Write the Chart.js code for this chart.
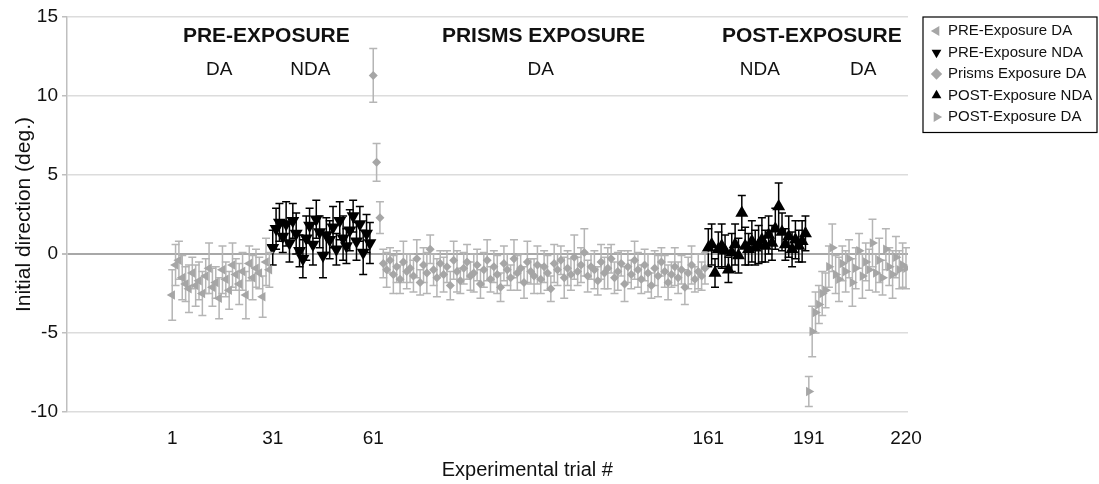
<!DOCTYPE html>
<html>
<head>
<meta charset="utf-8">
<script src="https://cdn.jsdelivr.net/npm/chart.js@4/dist/chart.umd.min.js"></script>
<style>
  html, body { margin: 0; padding: 0; background: #fff; }
  #wrap { width: 1099px; height: 484px; }
</style>
</head>
<body>
<div id="wrap"><canvas id="trialChart" width="1099" height="484"></canvas></div>
<script>
// x axis tick labels (trial numbers)
const xTicks = [1, 31, 61, 161, 191, 220];
const yTicks = [-10, -5, 0, 5, 10, 15];

const seriesNames = ['PRE-Exposure DA', 'PRE-Exposure NDA', 'Prisms Exposure DA', 'POST-Exposure NDA', 'POST-Exposure DA'];
const phaseNames = ['PRE-EXPOSURE', 'PRISMS EXPOSURE', 'POST-EXPOSURE'];
const handNames = ['DA', 'NDA', 'DA', 'NDA', 'DA'];

// initial direction means (deg.) and error bars, per phase
const preDa = [-2.6, -0.7, -0.4, -1.5, -1.9, -2.2, -1.2, -2.0, -1.7, -2.5, -1.4, -0.9, -2.1, -1.8, -2.8, -1.0, -1.6, -2.3, -0.7, -1.3, -1.9, -1.1, -2.6, -0.6, -1.5, -0.9, -1.2, -2.7, -0.5, -1.0];
const preDaErr = [1.6, 1.3, 1.2, 1.4, 1.1, 1.5, 1.0, 1.3, 1.2, 1.4, 1.1, 1.6, 1.2, 1.0, 1.3, 1.5, 1.1, 1.2, 1.4, 1.0, 1.3, 1.2, 1.5, 1.1, 1.4, 1.2, 1.0, 1.3, 1.5, 1.1];

const preNda = [0.4, 1.6, 2.0, 1.1, 1.9, 0.7, 2.1, 1.3, 0.2, -0.3, 1.0, 1.8, 0.6, 2.2, 1.4, -0.1, 1.2, 0.9, 1.7, 0.3, 2.1, 1.0, 0.5, 1.5, 2.4, 0.8, 1.9, 0.1, 1.3, 0.7];
const preNdaErr = [1.1, 1.3, 1.2, 1.0, 1.4, 1.2, 1.1, 1.3, 1.0, 1.2, 1.4, 1.1, 1.3, 1.2, 1.0, 1.4, 1.1, 1.2, 1.3, 1.0, 1.2, 1.4, 1.1, 1.3, 1.0, 1.2, 1.1, 1.4, 1.2, 1.3];

const prism = [11.3, 5.8, 2.3, -0.6, -1.0, -0.4, -1.3, -0.8, -1.6, -0.5,
  -1.1, -0.9, -1.4, -0.3, -1.8, -0.7, -1.2, 0.3, -1.0, -1.5,
  -0.6, -1.3, -0.8, -2.0, -0.4, -1.1, -1.7, -0.9, -0.5, -1.4,
  -1.2, -0.7, -1.9, -1.0, -0.4, -1.6, -0.8, -1.3, -2.1, -0.6,
  -1.0, -1.5, -0.3, -1.2, -0.9, -1.8, -0.5, -1.1, -1.4, -0.7,
  -1.6, -0.8, -1.2, -2.2, -0.6, -1.0, -0.4, -1.5, -0.9, -1.3,
  -0.2, -1.1, -0.7, 0.1, -1.4, -0.8, -1.0, -1.7, -0.5, -1.2,
  -0.9, -0.3, -1.5, -1.1, -0.6, -1.9, -0.8, -1.3, -0.4, -1.0,
  -1.6, -0.7, -1.2, -2.0, -0.9, -1.4, -0.5, -1.1, -1.8, -1.3,
  -0.8, -1.5, -1.0, -2.1, -1.2, -0.7, -1.6, -1.1, -1.4, -0.9];
const prismErr = [1.7, 1.2, 1.0, 0.9, 1.1, 0.8, 1.2, 1.0, 0.9, 1.3,
  1.1, 0.9, 1.0, 1.2, 0.8, 1.1, 1.3, 0.9, 1.0, 1.2,
  0.8, 1.1, 1.0, 0.9, 1.2, 1.3, 0.8, 1.0, 1.1, 0.9,
  1.2, 1.0, 0.9, 1.1, 1.3, 0.8, 1.0, 1.2, 0.9, 1.1,
  1.0, 0.8, 1.2, 1.1, 0.9, 1.0, 1.3, 0.8, 1.1, 1.2,
  0.9, 1.0, 1.1, 0.8, 1.2, 1.0, 0.9, 1.3, 1.1, 1.0,
  1.4, 0.9, 1.1, 1.5, 1.0, 0.8, 1.2, 0.9, 1.1, 1.0,
  1.3, 0.9, 1.0, 1.2, 0.8, 1.1, 1.0, 0.9, 1.2, 1.1,
  0.9, 1.0, 1.2, 0.8, 1.1, 1.3, 0.9, 1.0, 1.1, 0.8,
  1.2, 1.0, 0.9, 1.1, 1.0, 1.2, 0.8, 1.1, 0.9, 1.0];

const postNda = [0.4, 0.6, -1.2, 0.3, 0.5, 0.2, -1.0, 0.1, 0.6, -0.1, 2.6, 0.5, 0.3, 0.8, 0.4, 0.6, 0.9, 0.5, 1.2, 0.7, 1.6, 3.0, 1.4, 0.6, 1.1, 0.3, 0.9, 0.5, 0.8, 1.3];
const postNdaErr = [1.2, 1.3, 0.9, 1.1, 1.4, 1.0, 0.8, 1.2, 1.3, 1.1, 1.1, 1.2, 1.0, 1.3, 1.1, 1.2, 1.4, 1.0, 1.2, 1.1, 1.3, 1.5, 1.2, 1.0, 1.3, 1.1, 1.2, 1.0, 1.3, 1.1];

const postDa = [-8.7, -4.9, -3.7, -3.2, -2.5, -2.3, -0.8, 0.4, -1.3, -1.6, -0.6, -1.1, -0.3, -1.8, -0.9, 0.2, -1.4, -0.5, -1.0, 0.7, -1.2, -0.4, -1.5, 0.3, -0.8, -1.3, -0.2, -1.0, -0.7, -0.9];
const postDaErr = [0.95, 1.6, 1.3, 1.2, 1.4, 1.1, 1.3, 1.5, 1.2, 1.4, 1.1, 1.3, 1.2, 1.5, 1.3, 1.1, 1.4, 1.2, 1.3, 1.5, 1.2, 1.4, 1.1, 1.3, 1.2, 1.5, 1.3, 1.2, 1.4, 1.3];

// consecutive trial numbers for a phase
function trials(first, values) {
  return values.map((v, i) => ({ x: first + i, y: v }));
}

const GREY = '#a6a6a6';
const FONT = "'Liberation Sans', Arial, sans-serif";

function makeSet(label, first, values, errs, style, rotation, color, radius) {
  return {
    label: label,
    data: trials(first, values),
    errors: errs,
    pointStyle: style,
    rotation: rotation,
    backgroundColor: color,
    borderColor: color,
    borderWidth: 0,
    pointRadius: radius,
    pointHoverRadius: radius,
    showLine: false
  };
}

// vertical error bars drawn with the chart scales
const errorBars = {
  id: 'errorBars',
  beforeDatasetDraw(chart, args) {
    const ds = chart.data.datasets[args.index];
    if (!ds.errors) return;
    const { ctx, scales: { x, y } } = chart;
    ctx.save();
    ctx.strokeStyle = ds.borderColor === '#000000' ? '#000000' : '#b5b5b5';
    ctx.lineWidth = 1.5;
    ds.data.forEach((p, i) => {
      const e = ds.errors[i];
      const px = x.getPixelForValue(p.x);
      const top = y.getPixelForValue(p.y + e);
      const bot = y.getPixelForValue(p.y - e);
      ctx.beginPath();
      ctx.moveTo(px, top); ctx.lineTo(px, bot);
      ctx.moveTo(px - 4, top); ctx.lineTo(px + 4, top);
      ctx.moveTo(px - 4, bot); ctx.lineTo(px + 4, bot);
      ctx.stroke();
    });
    ctx.restore();
  }
};

// phase headings, hand labels and the x axis title
const phaseLabels = {
  id: 'phaseLabels',
  afterDatasetsDraw(chart) {
    const { ctx, scales: { x, y } } = chart;
    const headAt = [29.1, 111.8, 191.9];
    const handAt = [15, 42.2, 111, 176.4, 207.2];
    ctx.save();
    ctx.fillStyle = '#111';
    ctx.textAlign = 'center';
    ctx.textBaseline = 'middle';
    ctx.font = 'bold 21px ' + FONT;
    phaseNames.forEach((t, i) => ctx.fillText(t, x.getPixelForValue(headAt[i]), y.getPixelForValue(13.8)));
    ctx.font = '19px ' + FONT;
    handNames.forEach((t, i) => ctx.fillText(t, x.getPixelForValue(handAt[i]), y.getPixelForValue(11.65)));
    ctx.font = '20px ' + FONT;
    ctx.fillText('Experimental trial #', x.getPixelForValue(107), x.bottom - 14);
    ctx.restore();
  }
};

// fixed legend width and a framed legend box
const legendFrame = {
  id: 'legendFrame',
  beforeLayout(chart) {
    const lg = chart.legend;
    if (lg && !lg._fixedFit) {
      const fit = lg.fit;
      lg.fit = function () { fit.call(this); this.width = 191; };
      lg._fixedFit = true;
    }
  },
  afterLayout(chart) {
    chart.legend.left += 18;
  },
  afterDraw(chart) {
    const lg = chart.legend;
    const boxes = lg.legendHitBoxes;
    const last = boxes[boxes.length - 1];
    const ctx = chart.ctx;
    ctx.save();
    ctx.strokeStyle = '#000';
    ctx.lineWidth = 1.2;
    const x0 = lg.left - 3;
    const y0 = lg.top;
    ctx.strokeRect(x0, y0, chart.width - 2 - x0, last.top + last.height + 8 - y0);
    ctx.restore();
  }
};

const ctx = document.getElementById('trialChart').getContext('2d');
new Chart(ctx, {
  type: 'scatter',
  data: {
    datasets: [
      makeSet(seriesNames[0], 1, preDa, preDaErr, 'triangle', -90, GREY, 5.5),
      makeSet(seriesNames[1], 31, preNda, preNdaErr, 'triangle', 180, '#000000', 7.5),
      makeSet(seriesNames[2], 61, prism, prismErr, 'rectRot', 0, GREY, 4.5),
      makeSet(seriesNames[3], 161, postNda, postNdaErr, 'triangle', 0, '#000000', 7.5),
      makeSet(seriesNames[4], 191, postDa, postDaErr, 'triangle', 90, GREY, 5.5)
    ]
  },
  options: {
    responsive: false,
    animation: false,
    layout: { padding: { top: 17, right: 0, left: 0, bottom: 0 } },
    plugins: {
      tooltip: { enabled: false },
      legend: {
        position: 'right',
        align: 'start',
        labels: {
          usePointStyle: true,
          boxWidth: 8,
          boxHeight: 8,
          padding: 6.5,
          color: '#111',
          font: { family: FONT, size: 15 }
        }
      }
    },
    scales: {
      x: {
        type: 'linear',
        min: -30.4,
        max: 220.6,
        afterBuildTicks(axis) { axis.ticks = xTicks.map(v => ({ value: v })); },
        afterFit(axis) { axis.height = 72; },
        grid: { display: false },
        border: { display: false },
        ticks: { autoSkip: false, maxRotation: 0, padding: 7, color: '#111', font: { family: FONT, size: 19 } }
      },
      y: {
        min: -10,
        max: 15,
        afterBuildTicks(axis) { axis.ticks = yTicks.map(v => ({ value: v })); },
        afterFit(axis) { axis.width = 67; },
        grid: {
          color: c => (c.tick && c.tick.value === 0 ? '#a8a8a8' : '#dcdcdc'),
          lineWidth: c => (c.tick && c.tick.value === 0 ? 2 : 1.5),
          tickLength: 5,
          tickColor: '#bfbfbf'
        },
        border: { color: '#bfbfbf', width: 1.5 },
        ticks: { padding: 4, color: '#111', font: { family: FONT, size: 19 } },
        title: { display: true, text: 'Initial direction (deg.)', color: '#111', font: { family: FONT, size: 21 }, padding: { top: 12, bottom: 0 } }
      }
    }
  },
  plugins: [errorBars, phaseLabels, legendFrame]
});
</script>
</body>
</html>
